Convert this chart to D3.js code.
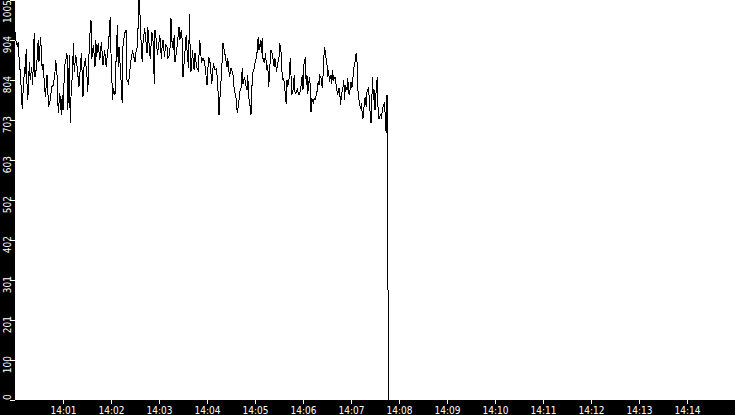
<!DOCTYPE html>
<html>
<head>
<meta charset="utf-8">
<script src="https://cdn.jsdelivr.net/npm/d3@7"></script>
<style>
  html, body { margin: 0; padding: 0; background: #fff; }
  svg { display: block; }
  text { font-family: "DejaVu Sans Condensed", "DejaVu Sans", sans-serif; font-stretch: condensed; font-size: 10px; fill: #fff; }
</style>
</head>
<body>
<svg id="chart" width="735" height="415"></svg>
<script>
// ---- data ----
const startTime = "2000-01-01T14:00:00";
const endTime = "2000-01-01T14:15:00";

// seconds after 14:00:00
const seconds = [
  0,1,3,4,5,7,9,10,12,13,
  14,15,16,18,19,21,22,24,25,27,
  29,30,32,34,35,38,40,42,44,46,
  48,50,51,53,54,56,58,59,60,62,
  65,66,68,69,70,72,73,74,76,78,
  80,81,83,85,86,88,90,91,93,95,
  96,98,100,101,102,104,106,108,110,112,
  114,115,117,119,120,122,123,125,126,128,
  129,130,132,134,135,137,139,140,142,144,
  145,147,148,150,151,153,154,155,156,158,
  159,160,162,163,165,166,167,169,170,171,
  173,174,175,177,178,180,181,183,184,185,
  187,188,190,191,193,194,195,196,198,199,
  200,202,204,205,206,208,209,210,212,213,
  214,215,217,218,219,220,222,223,224,225,
  227,229,
  231,233,235,237,240,242,244,246,248,250,
  252,254,255,257,258,260,262,263,265,266,
  268,270,271,273,274,276,277,278,280,281,
  283,284,285,287,288,290,291,292,294,295,
  296,297,299,300,302,303,304,305,307,308,
  309,310,312,313,315,316,317,318,319,320,
  322,323,324,325,327,328,330,331,333,334,
  335,336,338,339,340,341,343,344,345,346,
  348,349,350,351,353,354,355,356,358,359,
  360,361,363,364,365,366,368,369,370,371,
  373,374,375,376,378,379,380,381,383,384,
  385,386,387,388,390,391,392,393,395,396,
  397,398,400,401,402,403,405,406,407,408,
  410,411,412,413,415,416,417,418,420,421,
  422,423,425,426,427,428,429,430,432,433,
  434,435,437,438,439,440,442,443,444,445,
  447,448,449,450,452,453,454,455,457,458,
  459,460,462,463,464,465,466,467
];

const values = [
  925,904,888,900,862,812,732,770,837,820,
  883,795,753,850,804,837,791,921,812,837,
  904,850,913,829,845,762,816,737,753,787,
  791,825,854,804,720,770,716,766,728,837,
  871,728,867,695,762,829,896,825,867,829,
  787,816,871,762,833,858,812,774,900,955,
  858,892,837,904,862,896,854,900,841,879,
  837,858,896,963,871,753,783,766,837,942,
  837,888,825,745,888,921,930,804,795,837,
  854,879,867,850,871,888,946,1005,980,879,
  850,896,934,917,871,938,909,858,888,925,
  896,795,930,896,867,900,917,858,892,904,
  862,892,888,858,867,888,959,904,879,917,
  850,875,917,938,904,930,904,812,862,892,
  917,879,833,971,871,825,879,841,829,871,
  837,829,
  904,850,858,850,791,862,846,795,846,829,
  833,770,716,787,816,896,875,862,837,858,
  812,833,829,812,779,766,737,720,753,774,
  787,833,795,812,795,779,816,762,737,716,
  779,820,833,846,862,883,913,879,904,871,
  909,858,846,871,829,841,787,812,854,879,
  867,846,837,858,825,841,862,896,867,812,
  804,808,766,745,804,787,812,858,816,766,
  783,816,774,770,783,770,766,770,795,816,
  779,841,862,791,816,770,812,791,724,758,
  745,758,753,762,779,800,791,816,808,783,
  812,858,888,871,841,812,829,800,816,795,
  829,804,812,795,787,766,783,770,741,766,
  787,804,753,791,779,808,774,766,800,783,
  795,829,850,867,872,829,762,753,732,745,
  720,707,753,762,737,774,787,745,720,695,
  812,753,779,728,795,812,716,707,716,711,
  724,737,749,699,670,766,378,0
];

const yMax = 1005;
const yTickValues = [0,100.5,201,301.5,402,502.5,603,703.5,804,904.5,1005];
const yTickLabels = ["0","100","201","301","402","502","603","703","804","904","1005"];
const xTickLabels = ["14:01","14:02","14:03","14:04","14:05","14:06","14:07","14:08","14:09","14:10","14:11","14:12","14:13","14:14"];

// ---- drawing ----
const W = 735, H = 415;
const left = 15, bottom = 400;
const svg = d3.select("#chart");

const t0 = new Date(startTime);
const parseHM = d3.timeParse("%H:%M");
const x = d3.scaleTime().domain([t0, new Date(endTime)]).range([left, W]);
const y = d3.scaleLinear().domain([0, yMax]).range([bottom, 0]);

svg.append("rect").attr("x", 0).attr("y", 0).attr("width", W).attr("height", H).attr("fill", "#fff");

const data = seconds.map((s, i) => ({ t: new Date(t0.getTime() + s * 1000), v: values[i] }));

svg.append("path")
  .datum(data)
  .attr("fill", "none")
  .attr("stroke", "#000")
  .attr("stroke-width", 1)
  .attr("shape-rendering", "crispEdges")
  .attr("d", d3.line().x(d => x(d.t)).y(d => y(d.v)));

// black bands
svg.append("rect").attr("x", 0).attr("y", 0).attr("width", left).attr("height", H).attr("fill", "#000");
svg.append("rect").attr("x", 0).attr("y", bottom).attr("width", W).attr("height", H - bottom).attr("fill", "#000");

// bottom axis
const xTickDates = xTickLabels.map(l => {
  const p = parseHM(l);
  return new Date(t0.getFullYear(), t0.getMonth(), t0.getDate(), p.getHours(), p.getMinutes());
});
const xAxis = svg.append("g")
  .attr("transform", `translate(0,${bottom})`)
  .call(d3.axisBottom(x).tickValues(xTickDates).tickFormat((d, i) => xTickLabels[i]).tickSize(4));
xAxis.select(".domain").remove();
xAxis.selectAll(".tick line").attr("stroke", "#fff");
xAxis.selectAll(".tick text")
  .attr("fill", "#fff").attr("y", 14).attr("dy", 0)
  .attr("font-family", null).attr("font-size", null);

// left axis
const yAxis = svg.append("g")
  .attr("transform", `translate(${left},0)`)
  .call(d3.axisLeft(y).tickValues(yTickValues).tickFormat((d, i) => yTickLabels[i]).tickSize(5));
yAxis.select(".domain").remove();
yAxis.selectAll(".tick line").attr("stroke", "#fff");
yAxis.selectAll(".tick text").remove();
yAxis.attr("font-family", null).attr("font-size", null);

// rotated y labels
const lab = svg.append("g");
yTickValues.forEach((v, i) => {
  const tx = lab.append("text").attr("text-anchor", "end").text(yTickLabels[i]);
  const len = tx.node().getComputedTextLength();
  const top = Math.max(0, Math.min(bottom - len, y(v) - 4));
  tx.attr("transform", `translate(10.5,${top}) rotate(-90)`);
});
</script>
</body>
</html>
